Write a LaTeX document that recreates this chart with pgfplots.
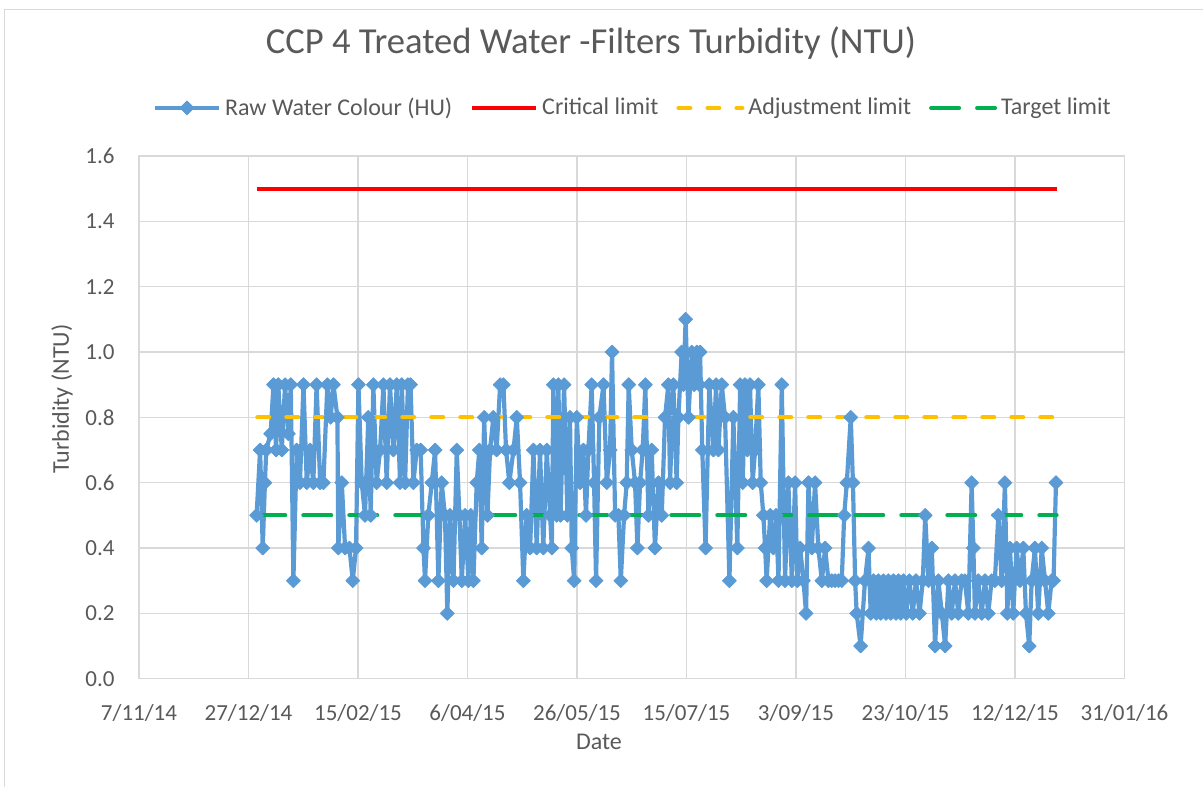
\documentclass[border=0pt]{standalone}
\usepackage{pgfplots}
\pgfplotsset{compat=1.18}
\usepackage{pgfplotstable}
\usepackage{fontspec}
\setmainfont{Carlito}
\definecolor{xblue}{HTML}{5B9BD5}
\definecolor{xred}{HTML}{FF0000}
\definecolor{xyellow}{HTML}{FFC000}
\definecolor{xgreen}{HTML}{00B050}
\definecolor{xgrid}{HTML}{D9D9D9}
\definecolor{xtext}{HTML}{595959}
\pgfplotstableread{
day val
53.7 0.5
55.3 0.7
56.5 0.4
57.5 0.6
58.1 0.7
60.1 0.75
61.4 0.9
62.6 0.7
63.6 0.9
65.2 0.7
66.7 0.9
68.2 0.75
69.3 0.9
70.5 0.3
72.0 0.7
73.5 0.6
75.1 0.9
76.6 0.6
78.1 0.7
79.6 0.6
81.1 0.9
82.7 0.6
84.2 0.6
86.0 0.9
87.5 0.8
88.8 0.9
90.6 0.8
91.0 0.4
92.6 0.6
94.1 0.4
96.1 0.4
97.6 0.3
99.1 0.4
100.2 0.9
101.7 0.6
103.2 0.5
104.7 0.8
105.8 0.5
107.0 0.9
108.5 0.6
110.1 0.7
111.6 0.9
113.1 0.6
114.6 0.9
116.2 0.7
117.7 0.9
119.2 0.6
120.0 0.9
121.5 0.6
122.8 0.9
124.0 0.9
125.3 0.6
126.8 0.7
128.6 0.7
129.9 0.4
130.6 0.3
132.1 0.5
133.7 0.6
135.2 0.7
136.7 0.3
138.2 0.6
139.7 0.5
140.8 0.2
142.0 0.5
143.6 0.3
145.1 0.7
146.3 0.5
147.4 0.3
148.9 0.5
150.4 0.3
151.5 0.5
152.7 0.3
154.2 0.6
155.4 0.7
156.5 0.4
157.6 0.8
159.1 0.5
160.3 0.7
161.8 0.8
163.3 0.7
164.9 0.9
166.4 0.9
167.6 0.7
169.1 0.6
171.0 0.7
172.5 0.8
174.0 0.6
175.5 0.3
177.0 0.5
178.6 0.4
180.1 0.7
181.6 0.4
183.1 0.7
184.6 0.4
186.2 0.7
187.7 0.5
188.5 0.4
189.2 0.9
190.7 0.5
191.5 0.9
192.5 0.5
194.1 0.9
195.6 0.5
196.8 0.8
197.6 0.4
198.7 0.3
199.9 0.8
201.4 0.6
202.9 0.7
204.1 0.5
205.2 0.7
206.7 0.9
207.8 0.6
208.7 0.3
210.2 0.8
212.1 0.9
213.6 0.6
215.1 0.7
216.0 1.0
217.4 0.5
218.9 0.5
220.0 0.3
221.5 0.5
222.7 0.6
223.6 0.9
225.0 0.7
226.5 0.6
227.6 0.4
228.8 0.6
230.0 0.7
231.2 0.9
232.6 0.5
234.1 0.7
235.6 0.4
237.2 0.6
238.7 0.5
240.2 0.8
241.7 0.9
242.5 0.6
244.0 0.9
245.5 0.6
246.3 0.8
247.8 1.0
248.6 0.9
249.6 1.1
250.9 0.8
252.4 1.0
253.5 0.9
254.7 1.0
255.9 0.9
256.2 1.0
257.2 0.7
258.7 0.4
260.4 0.9
262.3 0.7
263.5 0.9
264.6 0.7
266.1 0.9
267.6 0.8
269.6 0.3
271.4 0.8
273.2 0.4
274.5 0.9
275.7 0.6
276.7 0.9
277.8 0.7
279.0 0.9
280.2 0.6
281.3 0.7
282.8 0.9
283.9 0.6
285.1 0.5
285.9 0.4
286.6 0.3
288.2 0.5
289.7 0.4
290.9 0.5
292.0 0.3
293.5 0.9
295.0 0.3
296.5 0.6
298.1 0.3
299.6 0.6
300.6 0.3
301.9 0.4
303.4 0.3
304.6 0.2
305.7 0.6
307.2 0.4
308.7 0.6
310.2 0.4
311.8 0.3
313.3 0.4
314.8 0.3
316.3 0.3
317.8 0.3
319.4 0.3
320.9 0.3
322.0 0.5
323.2 0.6
325.0 0.8
326.0 0.6
327.0 0.3
327.7 0.2
329.5 0.1
331.5 0.3
333.1 0.4
334.1 0.2
335.4 0.3
336.6 0.2
337.6 0.3
338.7 0.2
339.9 0.3
341.1 0.2
342.2 0.3
343.3 0.2
344.5 0.3
345.7 0.2
346.8 0.3
347.8 0.2
349.1 0.3
350.3 0.2
351.8 0.3
353.3 0.2
354.8 0.3
356.4 0.2
357.9 0.3
359.0 0.5
360.5 0.3
362.0 0.4
363.5 0.1
365.0 0.3
366.6 0.2
368.1 0.1
369.6 0.3
371.1 0.2
372.6 0.3
374.1 0.2
375.6 0.3
377.1 0.3
378.7 0.2
380.2 0.6
381.0 0.4
381.7 0.2
383.2 0.3
384.8 0.2
386.3 0.3
387.8 0.2
389.3 0.3
390.8 0.3
392.4 0.5
393.9 0.3
395.4 0.6
396.5 0.2
397.7 0.4
399.2 0.2
400.7 0.4
402.3 0.3
403.8 0.4
405.0 0.2
406.5 0.1
407.6 0.3
409.1 0.4
410.6 0.2
412.2 0.4
413.7 0.3
415.2 0.2
416.7 0.3
417.6 0.3
418.7 0.6
}\turb
\begin{document}
\begin{tikzpicture}
\path[use as bounding box] (0,0) rectangle (601.5pt,393.5pt);
\draw[xgrid, line width=0.75pt] (2.25pt,0) -- (2.25pt,388.75pt) -- (601.5pt,388.75pt);
\begin{axis}[
  at={(69.5pt,54.15pt)}, anchor=south west,
  scale only axis, width=492.75pt, height=261.35pt,
  xmin=0, xmax=450, ymin=0, ymax=1.6,
  xtick={0,50,100,150,200,250,300,350,400,450},
  xticklabels={7/11/14,27/12/14,15/02/15,6/04/15,26/05/15,15/07/15,3/09/15,23/10/15,12/12/15,31/01/16},
  ytick={0,0.2,0.4,0.6,0.8,1.0,1.2,1.4,1.6},
  /pgf/number format/fixed,
  /pgf/number format/fixed zerofill,
  /pgf/number format/precision=1,
  /pgf/number format/assume math mode=true,
  grid=major,
  major grid style={xgrid, line width=0.75pt},
  axis line style={xgrid, line width=0.75pt},
  major tick length=0pt,
  tick label style={font=\fontsize{11.5}{13}\selectfont, text=xtext},
  yticklabel style={anchor=east, inner sep=0pt, xshift=-12pt},
  xticklabel style={anchor=center, inner sep=0pt, yshift=-17pt},
  legend style={at={(rel axis cs:0.502,1.092)}, anchor=center, draw=none, fill=none,
    font=\fontsize{12}{14}\selectfont, text=xtext,
    /tikz/every even column/.append style={column sep=7pt}},
  legend columns=4,
  legend image code/.code={\draw[mark repeat=2,mark phase=2,#1] plot coordinates {(0pt,0pt)(16pt,0pt)(32pt,0pt)};},
]
\addplot[xblue, line width=2.1pt, line join=round, mark=square*, mark size=2.45pt,
  mark options={fill=xblue, draw=xblue, line width=0.4pt, solid, rotate=45}] table[x=day, y=val] {\turb};
\addlegendentry{Raw Water Colour (HU)}
\addplot[xred, line width=2pt] coordinates {(54,1.5) (419,1.5)};
\addlegendentry{Critical limit}
\addplot[xyellow, line width=2pt, line cap=round, dash pattern=on 6pt off 8.5pt] coordinates {(54,0.8) (419,0.8)};
\addlegendentry{Adjustment limit}
\addplot[xgreen, line width=2pt, line cap=round, dash pattern=on 14pt off 9pt] coordinates {(54,0.5) (419,0.5)};
\addlegendentry{Target limit}
\end{axis}
\node[font=\fontsize{18.3}{22}\selectfont, text=xtext] at (295.5pt,372pt) {CCP 4 Treated Water -Filters Turbidity (NTU)};
\node[font=\fontsize{12}{14}\selectfont, text=xtext] at (299.5pt,22.5pt) {Date};
\node[font=\fontsize{12}{14}\selectfont, text=xtext, rotate=90] at (31pt,194pt) {Turbidity (NTU)};
\end{tikzpicture}
\end{document}
